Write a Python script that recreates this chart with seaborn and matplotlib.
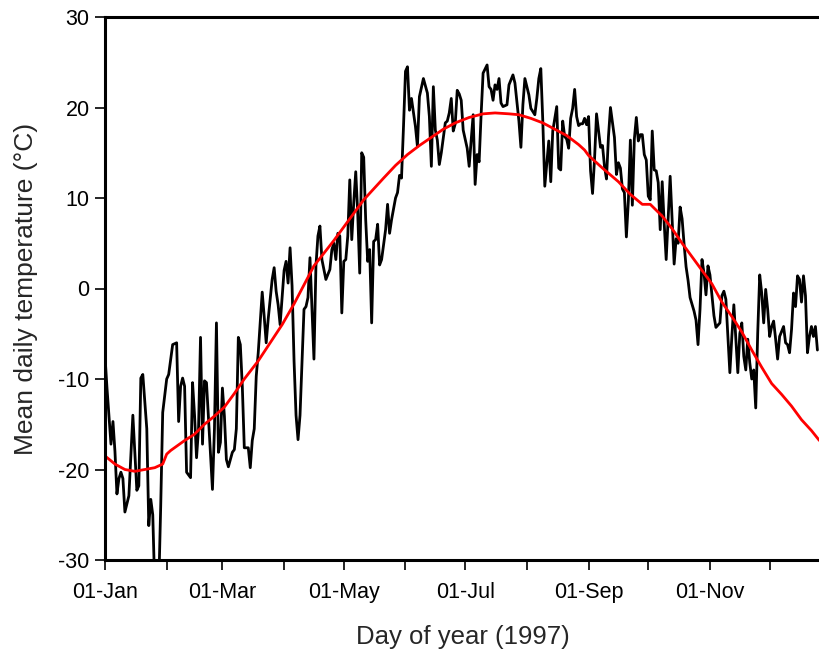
import numpy as np
import pandas as pd
import matplotlib
matplotlib.use("Agg")
import matplotlib.pyplot as plt
import matplotlib.dates as mdates
import seaborn as sns

# Daily mean temperature (day of year index, 0 = 01-Jan-1997)
day = [0, 1, 3, 4, 5, 6, 7, 8, 9, 10, 12, 14, 16, 17, 18, 19, 21, 22, 23, 24,
       25, 26, 27, 28, 29, 31, 32, 34, 36, 37, 38, 39, 40, 41, 43, 44, 45, 46, 47, 48,
       49, 50, 51, 52, 54, 55, 56, 57, 58, 59, 60, 61, 62, 64, 65, 66, 67, 68, 69, 70,
       72, 73, 74, 75, 76, 77, 79, 80, 81, 82, 84, 85, 86, 87, 88, 90, 91, 92, 93, 94,
       95, 96, 97, 98, 99, 100, 101, 102, 103, 105, 106, 107, 108, 109, 111, 113, 114, 115, 116, 117,
       118, 119, 120, 121, 122, 123, 124, 125, 126, 127, 128, 129, 130, 131, 132, 133, 134, 135, 136, 137,
       138, 139, 141, 142, 143, 144, 146, 147, 148, 149, 150, 151, 152, 153, 154, 156, 157, 158, 160, 162,
       163, 164, 165, 166, 167, 168, 169, 171, 172, 173, 174, 175, 176, 177, 178, 179, 180, 182, 183, 185,
       186, 187, 188, 189, 190, 192, 193, 194, 195, 196, 197, 198, 199, 200, 202, 203, 205, 206, 208, 209,
       210, 211, 213, 214, 216, 217, 218, 219, 220, 221, 223, 224, 225, 227, 228, 229, 230, 231, 232, 233,
       234, 235, 236, 237, 238, 239, 240, 241, 242, 243, 244, 245, 246, 247, 249, 250, 251, 252, 253, 254,
       256, 257, 258, 259, 260, 261, 262, 263, 264, 265, 266, 267, 268, 269, 270, 271, 272, 273, 274, 275,
       276, 277, 278, 279, 280, 281, 282, 284, 285, 286, 287, 288, 289, 290, 291, 292, 293, 294, 296, 297,
       298, 299, 300, 301, 302, 303, 304, 305, 306, 307, 309, 310, 311, 312, 314, 315, 316, 317, 318, 319,
       320, 321, 322, 323, 324, 325, 326, 327, 328, 329, 330, 331, 332, 333, 334, 335, 336, 337, 338, 339,
       341, 342, 343, 344, 345, 346, 347, 348, 349, 350, 351, 352, 353, 354, 355, 356, 357, 358]
temp = [-7.5, -11.0, -17.2, -14.7, -18.0, -22.7, -21.0, -20.3, -21.0, -24.7, -22.9, -14.0, -22.3, -21.8, -9.9, -9.5, -15.5, -26.2, -23.3, -25.0,
        -33.0, -34.0, -33.0, -24.0, -13.7, -10.0, -9.5, -6.2, -6.0, -14.7, -10.8, -9.9, -10.8, -20.3, -20.9, -10.4, -14.0, -18.7, -15.5, -5.4,
        -17.2, -10.2, -10.4, -14.4, -22.2, -15.5, -3.8, -18.1, -17.0, -11.0, -14.1, -18.9, -19.7, -18.1, -17.8, -15.5, -5.4, -6.2, -10.8, -17.6,
        -17.6, -19.8, -16.8, -15.5, -9.7, -7.1, -0.4, -3.1, -6.0, -3.4, 1.0, 2.3, -0.3, -1.8, -4.0, 2.0, 3.0, 0.6, 4.5, 0.3,
        -8.0, -14.0, -16.7, -14.0, -8.2, -2.3, -2.0, -1.0, 3.4, -7.8, 2.5, 5.8, 6.9, 3.2, 1.0, 2.1, 4.3, 5.0, 3.2, 6.1,
        5.8, -2.7, 3.0, 3.2, 5.8, 12.0, 5.4, 9.5, 12.9, 8.3, 1.7, 15.0, 14.5, 7.6, 3.0, 4.3, -3.8, 5.2, 5.4, 7.1,
        2.6, 3.2, 6.5, 9.3, 6.1, 7.6, 10.0, 10.6, 12.5, 12.2, 17.9, 24.0, 24.5, 19.7, 21.0, 17.9, 15.7, 21.2, 23.2, 21.6,
        19.0, 13.5, 22.3, 17.5, 16.4, 13.7, 15.0, 18.3, 18.5, 19.4, 21.0, 17.4, 18.2, 21.9, 21.5, 20.8, 17.5, 15.5, 13.5, 19.2,
        11.5, 14.8, 14.0, 19.2, 23.8, 24.7, 22.3, 22.0, 20.8, 22.5, 22.0, 23.2, 20.5, 20.1, 20.3, 22.5, 23.6, 22.7, 18.5, 15.6,
        20.3, 23.2, 21.4, 19.9, 19.2, 21.0, 23.2, 24.3, 18.5, 11.3, 16.3, 11.8, 17.4, 20.1, 13.3, 13.1, 18.5, 16.8, 16.5, 15.5,
        18.8, 19.9, 22.0, 19.0, 18.0, 18.2, 18.2, 18.8, 18.1, 19.0, 13.0, 10.5, 14.3, 19.3, 15.6, 15.8, 13.5, 12.1, 16.8, 20.0,
        16.7, 12.6, 13.9, 13.3, 11.0, 10.6, 5.7, 9.7, 16.4, 9.2, 16.5, 18.9, 16.3, 17.0, 17.0, 14.8, 14.2, 10.2, 9.8, 17.4,
        13.1, 13.0, 11.7, 6.5, 11.8, 7.2, 3.2, 12.4, 7.6, 2.7, 5.5, 5.0, 9.0, 7.7, 4.9, 2.4, 0.9, -1.0, -2.5, -3.5,
        -6.2, -2.3, 3.2, 1.7, -0.7, 2.5, 1.5, -0.8, -3.0, -4.3, -3.8, -0.8, -0.3, -1.2, -9.3, -5.3, -1.8, -5.6, -9.3, -5.0,
        -3.8, -7.5, -9.0, -5.6, -8.2, -10.0, -9.0, -13.2, -4.9, 1.5, -0.5, -3.8, -0.1, -2.3, -5.3, -4.2, -3.6, -5.6, -7.8, -5.3,
        -4.2, -6.0, -6.2, -7.1, -4.5, -0.5, -2.0, 1.4, 1.0, -1.5, 1.4, -0.8, -7.1, -5.3, -4.2, -5.3, -4.2, -6.8]

# Smoothed curve (red)
smooth_day = [0, 5, 10, 15, 20, 25, 29, 31, 33, 40, 45, 50, 55, 60, 65, 70, 77, 83, 89, 95,
              100, 105, 110, 115, 120, 125, 130, 135, 140, 146, 152, 158, 164, 170, 176, 183, 190, 196, 203, 208,
              214, 220, 226, 232, 238, 241, 243, 250, 258, 264, 270, 274, 280, 285, 290, 295, 300, 305, 310, 315,
              320, 325, 330, 335, 340, 345, 350, 355, 359]
smooth_temp = [-18.5, -19.4, -20.0, -20.2, -20.0, -19.8, -19.4, -18.3, -17.9, -16.8, -16.1, -15.0, -14.1, -13.1, -11.6, -10.0, -8.0, -6.0, -4.0, -1.7,
               0.4, 2.5, 3.9, 5.3, 6.8, 8.3, 9.8, 11.0, 12.2, 13.6, 14.8, 15.8, 16.7, 17.6, 18.3, 18.9, 19.3, 19.4, 19.3, 19.2,
               18.8, 18.3, 17.6, 16.9, 15.9, 15.3, 14.7, 13.3, 11.8, 10.4, 9.3, 9.3, 8.0, 6.6, 5.0, 3.5, 2.0, 0.5, -1.5, -3.1,
               -4.8, -6.8, -8.7, -10.5, -11.7, -13.0, -14.5, -15.7, -16.8]

y_ticks = [-30, -20, -10, 0, 10, 20, 30]

start = pd.Timestamp("1997-01-01")
df = pd.DataFrame({"date": start + pd.to_timedelta(day, unit="D"), "temp": temp})
df_s = pd.DataFrame({"date": start + pd.to_timedelta(smooth_day, unit="D"), "temp": smooth_temp})

sns.set_style("ticks")
plt.rcParams["font.family"] = ["Liberation Sans", "DejaVu Sans"]

fig = plt.figure(figsize=(8.2, 6.55), dpi=100)
ax = fig.add_axes([105 / 820, 1 - 560 / 655, 1 - 105 / 820, (560 - 17) / 655])

sns.lineplot(data=df, x="date", y="temp", color="black", lw=2.0, ax=ax)
sns.lineplot(data=df_s, x="date", y="temp", color="#ff0000", lw=2.0, ax=ax)

ax.set_xlim(start, start + pd.Timedelta(days=(820 - 105) / 1.99))
ax.set_ylim(-30, 30)
ax.set_yticks(y_ticks)
ax.set_yticklabels([str(v) for v in y_ticks])

ax.xaxis.set_major_locator(mdates.MonthLocator())
def fmt(x, pos=None):
    d = mdates.num2date(x)
    return d.strftime("%d-%b") if d.month % 2 == 1 else ""
ax.xaxis.set_major_formatter(plt.FuncFormatter(fmt))

for s in ["left", "bottom", "top"]:
    ax.spines[s].set_visible(True)
    ax.spines[s].set_linewidth(2.2)
    ax.spines[s].set_color("black")
ax.spines["right"].set_visible(False)

ax.tick_params(axis="both", direction="out", length=7, width=1.2, color="black",
               labelsize=15.5, labelcolor="black")
ax.tick_params(axis="x", pad=9)
ax.tick_params(axis="y", pad=4)
ax.tick_params(top=False, right=False)

ax.set_xlabel("Day of year (1997)", fontsize=18.5, labelpad=16)
ax.set_ylabel("Mean daily temperature (°C)", fontsize=19, labelpad=15)

fig.savefig("out.png", dpi=100)
